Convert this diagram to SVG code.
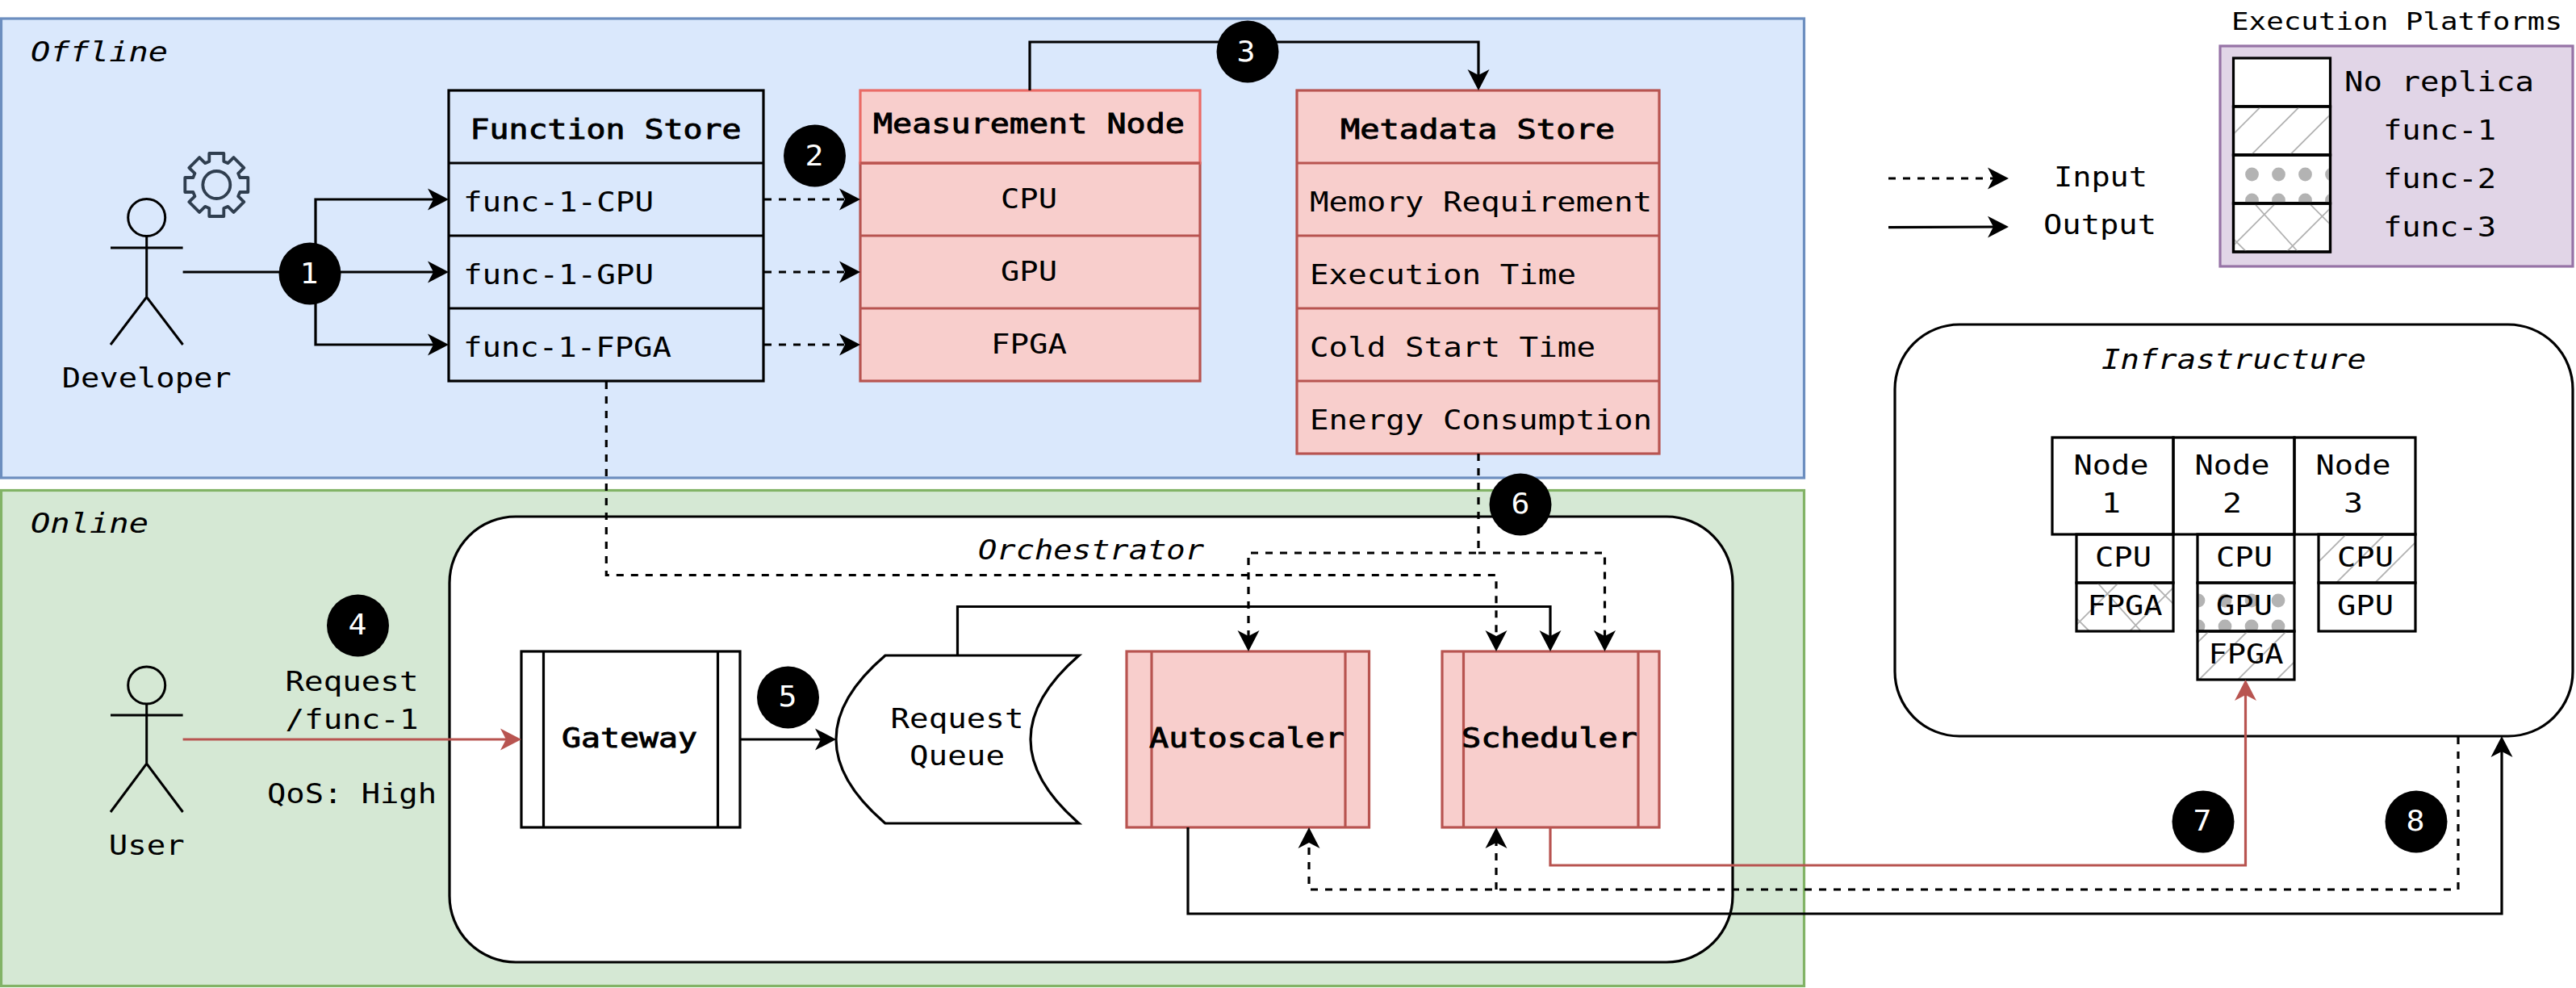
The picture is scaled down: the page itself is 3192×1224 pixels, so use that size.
<svg xmlns="http://www.w3.org/2000/svg" width="3192" height="1224" viewBox="0 0 3192 1224">
<style>
text{font-family:"DejaVu Sans Mono","Liberation Mono",monospace;font-size:33px;fill:#000}
.m{text-anchor:middle}
.b{stroke:#000;stroke-width:.9}
.i{font-style:italic}
.s30{font-size:30px}
.num{font-size:35px;fill:#fff;text-anchor:middle}
.box{fill:none;stroke:#000;stroke-width:3.2}
.wbox{fill:#fff;stroke:#000;stroke-width:3.2}
.red{fill:#f8cecc;stroke:#b85450;stroke-width:3.2}
.redl{fill:none;stroke:#b85450;stroke-width:3.2}
.act{fill:none;stroke:#000;stroke-width:3}
.c{fill:none;stroke:#000;stroke-width:3.2}
.d{fill:none;stroke:#000;stroke-width:3.2;stroke-dasharray:9 9}
.ca{marker-end:url(#ah)}
.ra{fill:none;stroke:#b85450;stroke-width:3.2;marker-end:url(#rh)}
.badge{fill:#000}
.h{stroke:#b3b3b3;stroke-width:1.8}
.dot{fill:#b3b3b3}
</style>
<defs>
<marker id="ah" markerUnits="userSpaceOnUse" markerWidth="28" markerHeight="28" refX="20" refY="14" orient="auto"><path d="M0 .5L26 14L0 27.5L7 14Z" fill="#000"/></marker>
<marker id="rh" markerUnits="userSpaceOnUse" markerWidth="28" markerHeight="28" refX="20" refY="14" orient="auto"><path d="M0 .5L26 14L0 27.5L7 14Z" fill="#b85450"/></marker>
<symbol id="hatchA" viewBox="0 0 120 60"><path class="h" d="M34 0L-1 35M82 0L22 60M130 0L70 60M178 0L118 60"/></symbol>
<symbol id="hatchB" viewBox="0 0 120 60"><path class="h" d="M14 0L-46 60M62 0L2 60M110 0L50 60M158 0L98 60"/></symbol>
<symbol id="cross" viewBox="0 0 120 60"><path class="h" d="M26 0L80 60M52 0L0 52M122 4L66 60M94 0L122 28M0 44L16 60"/></symbol>
<symbol id="dots" viewBox="0 0 120 60"><g class="dot"><circle cx="23" cy="24" r="8.4"/><circle cx="56" cy="24" r="8.4"/><circle cx="89" cy="24" r="8.4"/><circle cx="122" cy="24" r="8.4"/><circle cx="23" cy="56" r="8.4"/><circle cx="56" cy="56" r="8.4"/><circle cx="89" cy="56" r="8.4"/><circle cx="122" cy="56" r="8.4"/></g></symbol>
<symbol id="dots2" viewBox="0 0 120 60"><g class="dot"><circle cx="1" cy="22" r="8.4"/><circle cx="34" cy="22" r="8.4"/><circle cx="67" cy="22" r="8.4"/><circle cx="100" cy="22" r="8.4"/><circle cx="1" cy="54" r="8.4"/><circle cx="34" cy="54" r="8.4"/><circle cx="67" cy="54" r="8.4"/><circle cx="100" cy="54" r="8.4"/></g></symbol>
</defs>

<g id="offline">
<rect x="1.5" y="23" width="2234" height="569" fill="#dae8fc" stroke="#6c8ebf" stroke-width="3.2"/>
<text class="i" x="38" y="76" textLength="170" lengthAdjust="spacingAndGlyphs">Offline</text>
</g>
<g id="online">
<rect x="1.5" y="607.5" width="2234" height="614" fill="#d5e8d4" stroke="#82b366" stroke-width="3.2"/>
<text class="i" x="38" y="660" textLength="146" lengthAdjust="spacingAndGlyphs">Online</text>
</g>
<g id="orchestrator">
<rect class="wbox" x="557" y="640" width="1590" height="552" rx="82" ry="82"/>
<text class="i m" x="1352" y="692.5" textLength="280" lengthAdjust="spacingAndGlyphs">Orchestrator</text>
</g>

<g id="developer">
<circle class="act" cx="181.7" cy="269.5" r="23"/>
<path class="act" d="M181.7 292.5V368M137 307H226.6M137 427L181.7 368L226.6 427"/>
<text class="m" x="181.7" y="480" textLength="210" lengthAdjust="spacingAndGlyphs">Developer</text>
</g>
<g id="gear" transform="translate(268.3 229)" fill="none" stroke="#2f3e4f" stroke-width="3.8" stroke-linejoin="round">
<path d="M-9-29V-39H9V-29L14.14-26.87L21.21-33.94L33.94-21.21L26.87-14.14L29-9H39V9H29L26.87 14.14L33.94 21.21L21.21 33.94L14.14 26.87L9 29V39H-9V29L-14.14 26.87L-21.21 33.94L-33.94 21.21L-26.87 14.14L-29 9H-39V-9H-29L-26.87-14.14L-33.94-21.21L-21.21-33.94L-14.14-26.87Z"/>
<circle r="17"/>
</g>

<g id="function-store">
<rect class="box" x="556" y="112" width="390" height="360"/>
<path class="box" d="M556 202H946M556 292H946M556 382H946"/>
<text class="m b" x="750.6" y="172" textLength="336" lengthAdjust="spacingAndGlyphs">Function Store</text>
<text x="574" y="262" textLength="236" lengthAdjust="spacingAndGlyphs">func-1-CPU</text>
<text x="574" y="352" textLength="236" lengthAdjust="spacingAndGlyphs">func-1-GPU</text>
<text x="574" y="442" textLength="258" lengthAdjust="spacingAndGlyphs">func-1-FPGA</text>
</g>
<g id="measurement-node">
<rect class="red" x="1066" y="202" width="421" height="270"/>
<path class="redl" d="M1066 292H1487M1066 382H1487"/>
<rect x="1066" y="112" width="421" height="90" fill="#f8cecc" stroke="#ea6b66" stroke-width="3.2"/>
<path class="redl" d="M1066 202H1487"/>
<text class="m b" x="1275" y="165" textLength="386" lengthAdjust="spacingAndGlyphs">Measurement Node</text>
<text class="m" x="1275" y="258" textLength="70" lengthAdjust="spacingAndGlyphs">CPU</text>
<text class="m" x="1275" y="348" textLength="70" lengthAdjust="spacingAndGlyphs">GPU</text>
<text class="m" x="1275" y="438" textLength="94" lengthAdjust="spacingAndGlyphs">FPGA</text>
</g>
<g id="metadata-store">
<rect class="red" x="1607" y="112" width="449" height="450"/>
<path class="redl" d="M1607 202H2056M1607 292H2056M1607 382H2056M1607 472H2056"/>
<text class="m b" x="1831" y="172" textLength="340" lengthAdjust="spacingAndGlyphs">Metadata Store</text>
<text x="1623" y="262" textLength="424" lengthAdjust="spacingAndGlyphs">Memory Requirement</text>
<text x="1623" y="352" textLength="330" lengthAdjust="spacingAndGlyphs">Execution Time</text>
<text x="1623" y="442" textLength="354" lengthAdjust="spacingAndGlyphs">Cold Start Time</text>
<text x="1623" y="532" textLength="424" lengthAdjust="spacingAndGlyphs">Energy Consumption</text>
</g>

<g id="user">
<circle class="act" cx="181.7" cy="849" r="23"/>
<path class="act" d="M181.7 872V946M137 886H226.6M137 1006L181.7 946L226.6 1006"/>
<text class="m" x="181.7" y="1059" textLength="94" lengthAdjust="spacingAndGlyphs">User</text>
</g>
<g id="request-label">
<text class="m" x="436" y="856" textLength="165" lengthAdjust="spacingAndGlyphs">Request</text>
<text class="m" x="436" y="902.5" textLength="165" lengthAdjust="spacingAndGlyphs">/func-1</text>
<text class="m" x="436" y="995" textLength="210" lengthAdjust="spacingAndGlyphs">QoS: High</text>
</g>
<g id="gateway">
<rect class="box" x="646" y="807" width="271" height="218"/>
<path class="box" d="M673.5 807V1025M889.5 807V1025"/>
<text class="m b" x="780" y="926" textLength="168" lengthAdjust="spacingAndGlyphs">Gateway</text>
</g>
<g id="request-queue">
<path class="wbox" d="M1097 812H1337Q1217 916 1337 1020H1097Q975 916 1097 812Z"/>
<text class="m" x="1186" y="902" textLength="165" lengthAdjust="spacingAndGlyphs">Request</text>
<text class="m" x="1186" y="948" textLength="118" lengthAdjust="spacingAndGlyphs">Queue</text>
</g>
<g id="autoscaler">
<rect class="red" x="1396" y="807" width="300.5" height="218"/>
<path class="redl" d="M1427 807V1025M1667 807V1025"/>
<text class="m b" x="1545" y="926" textLength="242" lengthAdjust="spacingAndGlyphs">Autoscaler</text>
</g>
<g id="scheduler">
<rect class="red" x="1787" y="807" width="269" height="218"/>
<path class="redl" d="M1813.5 807V1025M2030 807V1025"/>
<text class="m b" x="1920" y="926" textLength="218" lengthAdjust="spacingAndGlyphs">Scheduler</text>
</g>

<g id="infrastructure">
<rect class="wbox" x="2348" y="402" width="840" height="510" rx="80" ry="80"/>
<text class="i m" x="2768" y="456.5" textLength="328" lengthAdjust="spacingAndGlyphs">Infrastructure</text>
</g>
<g id="node-1">
<rect class="box" x="2543" y="542" width="150" height="120"/>
<text class="m" x="2616" y="588" textLength="93" lengthAdjust="spacingAndGlyphs">Node</text>
<text class="m" x="2616" y="635" textLength="24" lengthAdjust="spacingAndGlyphs">1</text>
<rect class="box" x="2573" y="662" width="120" height="60"/>
<text class="m" x="2631" y="702" textLength="70" lengthAdjust="spacingAndGlyphs">CPU</text>
<use href="#cross" x="2573" y="722" width="120" height="60"/>
<rect class="box" x="2573" y="722" width="120" height="60"/>
<text class="m" x="2633" y="762" textLength="93" lengthAdjust="spacingAndGlyphs">FPGA</text>
</g>
<g id="node-2">
<rect class="box" x="2693" y="542" width="150" height="120"/>
<text class="m" x="2766" y="588" textLength="93" lengthAdjust="spacingAndGlyphs">Node</text>
<text class="m" x="2766" y="635" textLength="24" lengthAdjust="spacingAndGlyphs">2</text>
<rect class="box" x="2723" y="662" width="120" height="60"/>
<text class="m" x="2781" y="702" textLength="70" lengthAdjust="spacingAndGlyphs">CPU</text>
<use href="#dots2" x="2723" y="722" width="120" height="60"/>
<rect class="box" x="2723" y="722" width="120" height="60"/>
<text class="m" x="2781" y="762" textLength="70" lengthAdjust="spacingAndGlyphs">GPU</text>
<use href="#hatchB" x="2723" y="782" width="120" height="60"/>
<rect class="box" x="2723" y="782" width="120" height="60"/>
<text class="m" x="2783" y="822" textLength="93" lengthAdjust="spacingAndGlyphs">FPGA</text>
</g>
<g id="node-3">
<rect class="box" x="2843" y="542" width="150" height="120"/>
<text class="m" x="2916" y="588" textLength="93" lengthAdjust="spacingAndGlyphs">Node</text>
<text class="m" x="2916" y="635" textLength="24" lengthAdjust="spacingAndGlyphs">3</text>
<use href="#hatchA" x="2873" y="662" width="120" height="60"/>
<rect class="box" x="2873" y="662" width="120" height="60"/>
<text class="m" x="2931" y="702" textLength="70" lengthAdjust="spacingAndGlyphs">CPU</text>
<rect class="box" x="2873" y="722" width="120" height="60"/>
<text class="m" x="2931" y="762" textLength="70" lengthAdjust="spacingAndGlyphs">GPU</text>
</g>

<g id="execution-platforms">
<text class="m s30" x="2970" y="37" textLength="410" lengthAdjust="spacingAndGlyphs">Execution Platforms</text>
<rect x="2751" y="57" width="437" height="273" fill="#e1d5e7" stroke="#9673a6" stroke-width="3.2"/>
<rect class="wbox" x="2767.5" y="72" width="120" height="60"/>
<rect class="wbox" x="2767.5" y="132" width="120" height="60"/>
<rect class="wbox" x="2767.5" y="192" width="120" height="60"/>
<rect class="wbox" x="2767.5" y="252" width="120" height="60"/>
<use href="#hatchA" x="2767.5" y="132" width="120" height="60"/>
<use href="#dots" x="2767.5" y="192" width="120" height="60"/>
<use href="#cross" x="2767.5" y="252" width="120" height="60"/>
<rect class="box" x="2767.5" y="132" width="120" height="60"/>
<rect class="box" x="2767.5" y="192" width="120" height="60"/>
<rect class="box" x="2767.5" y="252" width="120" height="60"/>
<text class="m" x="3022.5" y="113" textLength="235" lengthAdjust="spacingAndGlyphs">No replica</text>
<text class="m" x="3023" y="173" textLength="140" lengthAdjust="spacingAndGlyphs">func-1</text>
<text class="m" x="3023" y="233" textLength="140" lengthAdjust="spacingAndGlyphs">func-2</text>
<text class="m" x="3023" y="293" textLength="140" lengthAdjust="spacingAndGlyphs">func-3</text>
</g>
<g id="legend-arrows">
<path class="d ca" d="M2340 221H2483"/>
<path class="c ca" d="M2340 281.7L2483 281"/>
<text class="m" x="2603" y="231" textLength="116" lengthAdjust="spacingAndGlyphs">Input</text>
<text class="m" x="2602" y="290" textLength="140" lengthAdjust="spacingAndGlyphs">Output</text>
</g>

<g id="connectors">
<path class="c" d="M226.6 337H391"/>
<path class="c ca" d="M391 337H550"/>
<path class="c ca" d="M391 337V247H550"/>
<path class="c ca" d="M391 337V427H550"/>
<path class="d ca" d="M947 247H1060"/>
<path class="d ca" d="M947 337H1060"/>
<path class="d ca" d="M947 427H1060"/>
<path class="c ca" d="M1276 112V52H1832V106"/>
<path class="d ca" d="M1832 562V685H1547V801"/>
<path class="d ca" d="M1832 685H1988.5V801"/>
<path class="d ca" d="M751.3 473V712.5H1854V801"/>
<path class="ra" d="M226.6 916H640"/>
<path class="c ca" d="M917 916H1030"/>
<path class="c ca" d="M1186.5 812V751.5H1921V801"/>
<path class="c ca" d="M1472 1025V1132H3100V918"/>
<path class="d ca" d="M3046 913V1102H1622V1031"/>
<path class="d ca" d="M1854 1102V1031"/>
<path class="ra" d="M1921 1025V1072H2782.5V848"/>
</g>

<g id="badges">
<g id="badge-1"><circle class="badge" cx="384" cy="339" r="38.5"/><text class="num" x="383" y="351" textLength="23" lengthAdjust="spacingAndGlyphs">1</text></g>
<g id="badge-2"><circle class="badge" cx="1009.5" cy="193" r="38.5"/><text class="num" x="1009" y="205" textLength="23" lengthAdjust="spacingAndGlyphs">2</text></g>
<g id="badge-3"><circle class="badge" cx="1546" cy="64" r="38.5"/><text class="num" x="1544" y="76" textLength="23" lengthAdjust="spacingAndGlyphs">3</text></g>
<g id="badge-4"><circle class="badge" cx="443.5" cy="775" r="38.5"/><text class="num" x="443" y="786" textLength="23" lengthAdjust="spacingAndGlyphs">4</text></g>
<g id="badge-5"><circle class="badge" cx="976.5" cy="864" r="38.5"/><text class="num" x="976" y="875" textLength="23" lengthAdjust="spacingAndGlyphs">5</text></g>
<g id="badge-6"><circle class="badge" cx="1884" cy="625" r="38.5"/><text class="num" x="1884" y="636" textLength="23" lengthAdjust="spacingAndGlyphs">6</text></g>
<g id="badge-7"><circle class="badge" cx="2730" cy="1018" r="38.5"/><text class="num" x="2729" y="1029" textLength="23" lengthAdjust="spacingAndGlyphs">7</text></g>
<g id="badge-8"><circle class="badge" cx="2994" cy="1018" r="38.5"/><text class="num" x="2993" y="1029" textLength="23" lengthAdjust="spacingAndGlyphs">8</text></g>
</g>
</svg>
